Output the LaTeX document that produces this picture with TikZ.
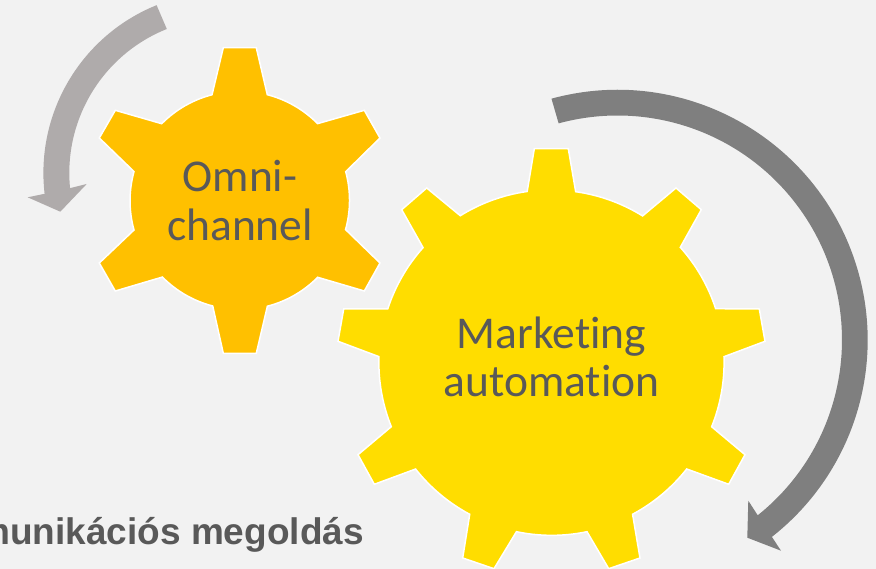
\documentclass[tikz,border=0pt]{standalone}
\usepackage{fontspec}
\setmainfont{Carlito}[Ligatures={NoCommon}]
\newfontfamily\boldsans{Liberation Sans}[BoldFont={Liberation Sans Bold}]
\definecolor{bg}{HTML}{F2F2F2}
\definecolor{gearorange}{HTML}{FFC000}
\definecolor{gearyellow}{HTML}{FFDD00}
\definecolor{txt}{HTML}{595959}
\definecolor{arrowdark}{HTML}{7F7F7F}
\definecolor{arrowlight}{HTML}{AFABAB}
\tikzset{
  gearshape/.style={draw=white,line width=1.5pt,line join=miter},
  geartext/.style={text=txt,align=center,font=\fontsize{45.5}{49}\selectfont,inner sep=0pt,anchor=base},
  capt/.style={text=txt,anchor=base east,inner sep=0pt,font=\boldsans\bfseries\fontsize{37}{44}\selectfont}
}
\begin{document}
\begin{tikzpicture}[x=1pt,y=-1pt]
\useasboundingbox (0,0) rectangle (876,569);
\fill[bg] (0,0) rectangle (876,569);
% left arrow
\coordinate (lc) at (224.4,173);
\fill[arrowlight] ([shift={(lc)}]248:181) arc[start angle=248,end angle=173.4,radius=181]
  -- (27.7,197.3) -- (60.3,211.7) -- (86.7,184) -- ([shift={(lc)}]174.4:155.1)
  arc[start angle=174.4,end angle=248.2,radius=155.1] -- cycle;
% right arrow
\coordinate (rc) at (617.5,340);
\fill[arrowdark] ([shift={(rc)}]-105.3:250.2) arc[start angle=-105.3,end angle=51.9,radius=250.2]
  -- (781,550.7) -- (747.3,537.7) -- (748.3,500.7) -- ([shift={(rc)}]51.35:224.5)
  arc[start angle=51.35,end angle=-105.2,radius=224.5] -- cycle;
% small gear
\def\ra{109.3}
\filldraw[gearshape,fill=gearorange]
  (267.3,94.7) arc[start angle=-75.5,end angle=-44.7,radius=\ra]
  -- (364.3,110.3) -- (380,138) -- (345.7,171.7) arc[start angle=-15.2,end angle=15.5,radius=\ra]
  -- (380,263) -- (364.3,291) -- (317.7,277.3) arc[start angle=44.7,end angle=75.5,radius=\ra]
  -- (256.3,353.3) -- (223.3,353.3) -- (212.7,306) arc[start angle=104.5,end angle=135.3,radius=\ra]
  -- (115.3,291) -- (99.3,263) -- (134,230) arc[start angle=164.5,end angle=195.5,radius=\ra]
  -- (99.3,138) -- (115.3,110.3) -- (161.7,123.7) arc[start angle=224.7,end angle=255.5,radius=\ra]
  -- (223.3,47.7) -- (256.3,47.7) -- cycle;
% big gear
\def\rb{172.5}
\filldraw[gearshape,fill=gearyellow]
  (575.7,191.7) arc[start angle=-82,end angle=-58.2,radius=\rb]
  -- (676,188) -- (701.3,209.7) -- (680.3,247.3) arc[start angle=-41.8,end angle=-18.1,radius=\rb]
  -- (759.3,309) -- (765,341.3) -- (724,356.7) arc[start angle=-1.9,end angle=21.9,radius=\rb]
  -- (745,454.7) -- (728.7,484.3) -- (686.7,469) arc[start angle=38.3,end angle=61.9,radius=\rb]
  -- (640,558) -- (608.7,568.7) -- (587,531.7) arc[start angle=78.2,end angle=101.8,radius=\rb]
  -- (494,568.7) -- (462.7,558) -- (469.7,514.3) arc[start angle=118.1,end angle=141.7,radius=\rb]
  -- (374.3,484.3) -- (358,454.7) -- (391.3,426.7) arc[start angle=158.1,end angle=181.9,radius=\rb]
  -- (338,341.3) -- (343.7,309) -- (387.7,309) arc[start angle=198.1,end angle=221.8,radius=\rb]
  -- (401.7,209.7) -- (426.7,188) -- (460.3,215.7) arc[start angle=238.2,end angle=262,radius=\rb]
  -- (534.3,148.7) -- (568.3,148.7) -- cycle;
\node[geartext] (omni) at (240,240.5) {Omni-\\channel};
\node[geartext] (mark) at (551.5,397) {Marketing\\automation};
\node[capt] (caption) at (364,544.5) {munikációs megoldás};
\end{tikzpicture}
\end{document}
